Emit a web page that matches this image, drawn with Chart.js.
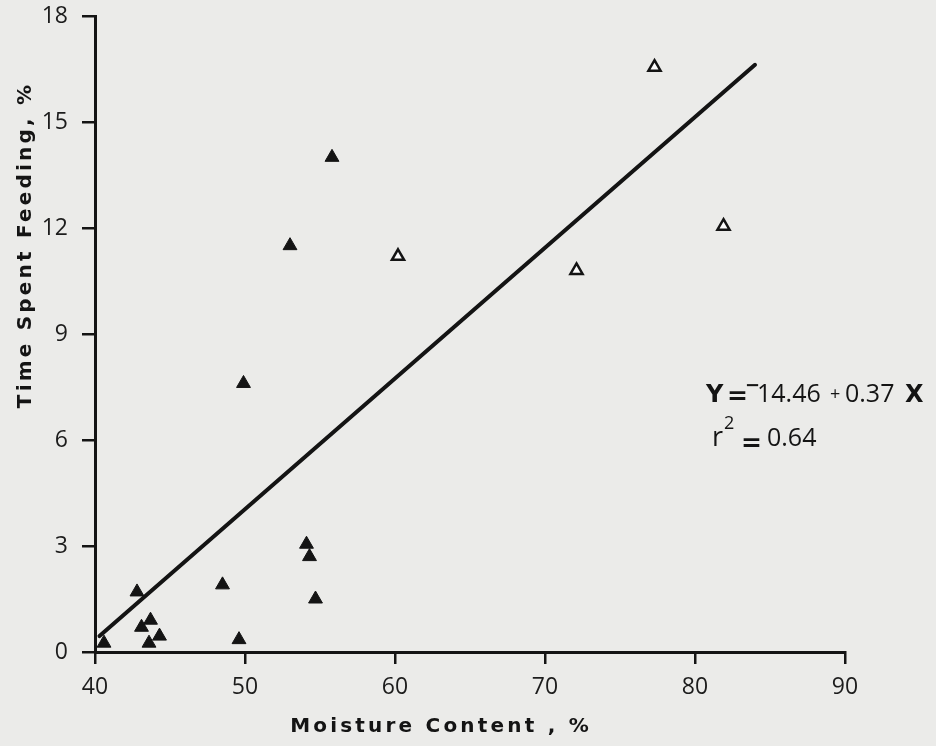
<!DOCTYPE html>
<html>
<head>
<meta charset="utf-8">
<script src="https://cdn.jsdelivr.net/npm/chart.js@4/dist/chart.umd.min.js"></script>
<style>
  html, body { margin: 0; padding: 0; background: #ebebe9; }
  canvas { display: block; }
</style>
</head>
<body>
<canvas id="c" width="936" height="746"></canvas>
<script>
// ---- data ----
const xTicks = [40, 50, 60, 70, 80, 90];
const yTicks = [0, 3, 6, 9, 12, 15, 18];

// filled triangles
const filledX = [40.6, 42.8, 43.1, 43.7, 43.6, 44.3, 48.5, 49.6, 49.9, 53.0, 54.1, 54.3, 54.7, 55.8];
const filledY = [0.25, 1.7, 0.7, 0.9, 0.25, 0.45, 1.9, 0.35, 7.6, 11.5, 3.05, 2.7, 1.5, 14.0];

// open triangles
const openX = [60.2, 72.1, 77.3, 81.9];
const openY = [11.2, 10.8, 16.55, 12.05];

// fitted regression line endpoints
const fitX = [40.3, 84.0];
const fitY = [0.45, 16.62];

const xTitle = 'Moisture Content , %';
const yTitle = 'Time Spent Feeding, %';

const toPts = (xs, ys) => xs.map((x, i) => ({x: x, y: ys[i]}));

const ink = '#141414';
const tickFont = {family: '"Open Sans", sans-serif', size: 23};

const bgPlugin = {
  id: 'bg',
  beforeDraw(chart) {
    const ctx = chart.ctx;
    ctx.save();
    ctx.fillStyle = '#ebebe9';
    ctx.fillRect(0, 0, chart.width, chart.height);
    ctx.restore();
  }
};

const textPlugin = {
  id: 'texts',
  afterDraw(chart) {
    const ctx = chart.ctx;
    ctx.save();
    ctx.fillStyle = ink;
    // axis titles
    ctx.font = 'bold 20px "DejaVu Sans", sans-serif';
    ctx.letterSpacing = '3.2px';
    ctx.textBaseline = 'alphabetic';
    ctx.textAlign = 'center';
    ctx.fillText(xTitle, 441, 732);
    ctx.save();
    ctx.translate(31, 245);
    ctx.rotate(-Math.PI / 2);
    ctx.fillText(yTitle, 0, 0);
    ctx.restore();
    ctx.letterSpacing = '0px';

    // equation
    ctx.textAlign = 'left';
    const bold = 'bold 24px "DejaVu Sans", sans-serif';
    const reg = '25px "Open Sans", sans-serif';
    const small = '18px "Open Sans", sans-serif';
    ctx.font = bold; ctx.fillText('Y', 706, 402);
    ctx.font = 'bold 25px "DejaVu Sans", sans-serif'; ctx.fillText('=', 727, 404);
    ctx.font = 'bold 18px "DejaVu Sans", sans-serif'; ctx.fillText('\u2212', 745, 391);
    ctx.font = reg;  ctx.fillText('14.46', 757, 402);
    ctx.font = small; ctx.fillText('+', 830, 400);
    ctx.font = reg;  ctx.fillText('0.37', 845, 402);
    ctx.font = bold; ctx.fillText('X', 905, 402);

    ctx.font = '27px "Open Sans", sans-serif';  ctx.fillText('r', 712, 446);
    ctx.font = small; ctx.fillText('2', 724, 429);
    ctx.font = 'bold 25px "DejaVu Sans", sans-serif'; ctx.fillText('=', 741, 451);
    ctx.font = reg; ctx.fillText('0.64', 767, 446);
    ctx.restore();
  }
};

new Chart(document.getElementById('c'), {
  type: 'scatter',
  data: {
    datasets: [
      {
        label: 'filled',
        data: toPts(filledX, filledY),
        pointStyle: 'triangle',
        pointRadius: 8,
        backgroundColor: ink,
        borderColor: ink,
        borderWidth: 1
      },
      {
        label: 'open',
        data: toPts(openX, openY),
        pointStyle: 'triangle',
        pointRadius: 7,
        backgroundColor: '#fbfbfb',
        borderColor: ink,
        borderWidth: 2.5
      },
      {
        type: 'line',
        label: 'fit',
        data: toPts(fitX, fitY),
        borderColor: ink,
        borderWidth: 4,
        pointRadius: 0,
        fill: false,
        borderCapStyle: 'round'
      }
    ]
  },
  options: {
    responsive: false,
    devicePixelRatio: 1,
    animation: false,
    events: [],
    layout: { padding: { top: 16, right: 91, left: 0, bottom: 0 } },
    plugins: { legend: { display: false }, tooltip: { enabled: false } },
    scales: {
      x: {
        type: 'linear',
        min: 40, max: 90,
        afterBuildTicks(s) { s.ticks = xTicks.map(v => ({value: v})); },
        afterFit(s) { s.height = 94; s.paddingLeft = 0; s.paddingRight = 0; },
        ticks: { font: tickFont, color: '#1c1c1c', padding: 10 },
        grid: { drawOnChartArea: false, drawTicks: true, tickLength: 12, color: ink, lineWidth: 2.5 },
        border: { display: true, color: ink, width: 3 }
      },
      y: {
        type: 'linear',
        min: 0, max: 18,
        afterBuildTicks(s) { s.ticks = yTicks.map(v => ({value: v})); },
        afterFit(s) { s.width = 95; s.paddingTop = 0; s.paddingBottom = 0; },
        ticks: { font: tickFont, color: '#1c1c1c', padding: 14 },
        grid: { drawOnChartArea: false, drawTicks: true, tickLength: 13, color: ink, lineWidth: 2.5 },
        border: { display: true, color: ink, width: 3 }
      }
    }
  },
  plugins: [bgPlugin, textPlugin]
});
</script>
</body>
</html>
